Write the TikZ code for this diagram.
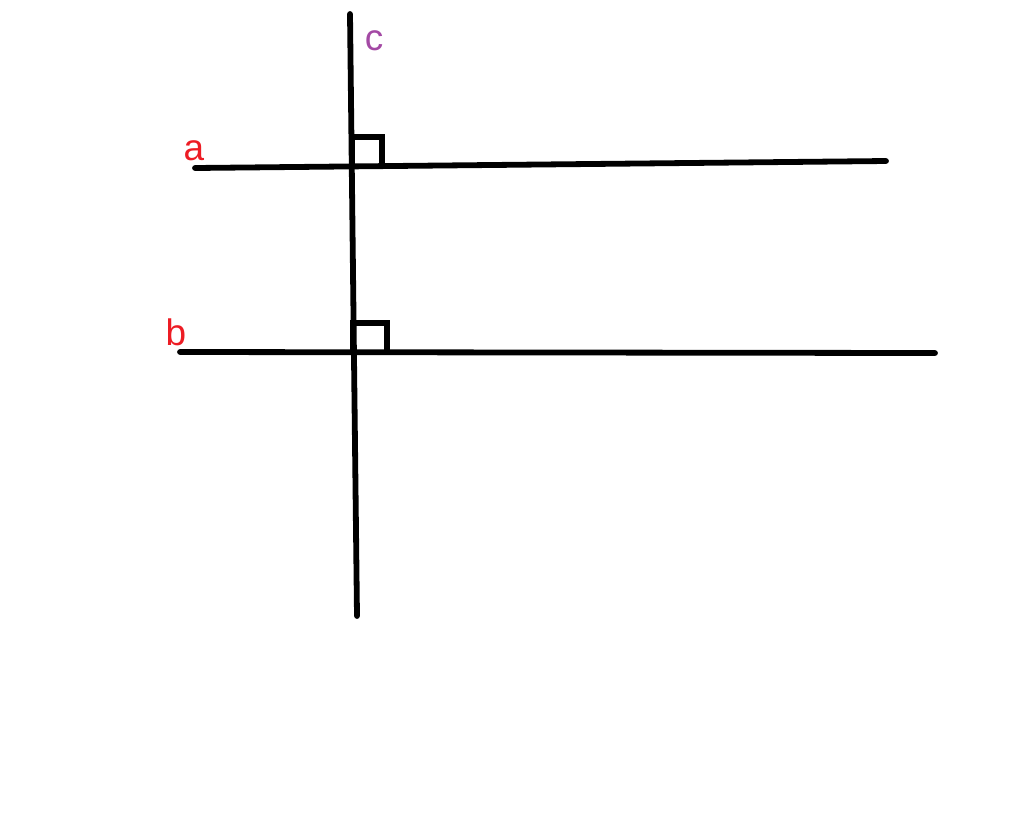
\documentclass[tikz,border=0pt]{standalone}
\usepackage{fontspec}
\setmainfont{Liberation Sans}
\definecolor{labred}{RGB}{237,28,36}
\definecolor{labpurple}{RGB}{163,73,164}
\begin{document}
\begin{tikzpicture}[x=0.02cm, y=-0.02cm, line width=3.3pt, line cap=round]
    \useasboundingbox (0,0) rectangle (1024,819);
    \coordinate (ctop) at (350,14);
    \coordinate (cbot) at (357,616);
    \coordinate (aleft) at (195,168);
    \coordinate (aright) at (886,161);
    \coordinate (bleft) at (180,352);
    \coordinate (bright) at (935,353);
    \draw (ctop)--(cbot);
    \draw (aleft)--(aright);
    \draw (bleft)--(bright);
    \draw[line cap=butt] (352,166)--(352,137)--(382,137)--(382,166);
    \draw[line cap=butt] (353,352)--(353,323)--(387,323)--(387,352);
    \node[text=labred, font=\fontsize{21}{24}\selectfont] (la) at (194,151) {a};
    \node[text=labred, font=\fontsize{21}{24}\selectfont] (lb) at (176,332) {b};
    \node[text=labpurple, font=\fontsize{21}{24}\selectfont] (lc) at (374,41) {c};
\end{tikzpicture}
\end{document}
